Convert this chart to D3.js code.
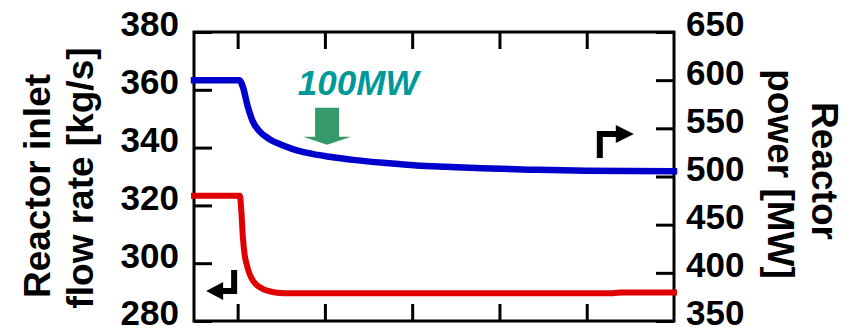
<!DOCTYPE html>
<html>
<head>
<meta charset="utf-8">
<script src="https://cdn.jsdelivr.net/npm/d3@7"></script>
<style>
  html, body { margin: 0; padding: 0; background: #fff; }
  svg { display: block; font-family: "Liberation Sans", Arial, sans-serif; font-weight: bold; }
</style>
</head>
<body>
<svg id="chart" width="852" height="329"></svg>
<script>
// Time axis (s): ticks only, no labels
const timeTicks = [0, 20, 40, 60, 80];

// Left axis: reactor inlet flow rate [kg/s]
const flowTicks = [280, 300, 320, 340, 360, 380];
// Right axis: reactor power [MW]
const powerTicks = [350, 400, 450, 500, 550, 600, 650];

// Reactor power transient (time s, MW)
const powerTime = [-10, 0.4, 1.2, 2.3, 3.4, 5, 7.4, 10, 13, 16, 21, 27, 34, 41, 48, 56, 68, 80, 100];
const powerMW   = [600, 600, 593, 573, 558, 547, 538.5, 533, 528, 524.5, 520.5, 517, 514, 511.5, 510, 508.5, 507, 506, 505.5];

// Reactor inlet flow rate transient (time s, kg/s)
const flowTime = [-10, 0.5, 0.85, 1.2, 1.6, 2.0, 2.8, 3.5, 4.5, 5.5, 7, 9, 12, 86, 88, 100];
const flowKgs  = [323.3, 323.3, 318, 309, 303, 300, 296, 294, 292.3, 291.3, 290.4, 289.8, 289.6, 289.6, 289.9, 289.9];

const svg = d3.select("#chart");
const L = 194, R = 674, T = 32, B = 321;

const x  = d3.scaleLinear().domain([-10, 100]).range([L, R]);
const yL = d3.scaleLinear().domain([280, 380]).range([B, T]);
const yR = d3.scaleLinear().domain([350, 650]).range([B, T]);

const tickLen = 18;
const fontSize = 35;

function styleAxis(g) {
  g.select(".domain").remove();
  g.selectAll(".tick line").attr("stroke", "#000").attr("stroke-width", 3);
  g.selectAll(".tick text")
    .attr("fill", "#000")
    .attr("font-size", fontSize)
    .attr("font-family", "'Liberation Sans', Arial, sans-serif")
    .attr("font-weight", "bold")
    .attr("dy", "0.11em");
}

// Left axis (inward ticks)
svg.append("g").attr("transform", `translate(${L},0)`)
  .call(d3.axisLeft(yL).tickValues(flowTicks).tickSizeInner(-tickLen).tickSizeOuter(0).tickPadding(15))
  .call(styleAxis);

// Right axis (inward ticks)
svg.append("g").attr("transform", `translate(${R},0)`)
  .call(d3.axisRight(yR).tickValues(powerTicks).tickSizeInner(-tickLen).tickSizeOuter(0).tickPadding(12))
  .call(styleAxis);

// Top and bottom time ticks
svg.append("g").attr("transform", `translate(0,${B})`)
  .call(d3.axisBottom(x).tickValues(timeTicks).tickSizeInner(-17).tickSizeOuter(0).tickFormat(""))
  .call(styleAxis);
svg.append("g").attr("transform", `translate(0,${T})`)
  .call(d3.axisTop(x).tickValues(timeTicks).tickSizeInner(-17).tickSizeOuter(0).tickFormat(""))
  .call(styleAxis);

// Plot frame
svg.append("rect")
  .attr("x", L).attr("y", T).attr("width", R - L).attr("height", B - T)
  .attr("fill", "none").attr("stroke", "#000").attr("stroke-width", 3);

// Series lines
const powerLine = d3.line().x(d => x(d[0])).y(d => yR(d[1])).curve(d3.curveMonotoneX);
const flowLine  = d3.line().x(d => x(d[0])).y(d => yL(d[1])).curve(d3.curveMonotoneX);

svg.append("path")
  .datum(d3.zip(powerTime, powerMW))
  .attr("d", powerLine)
  .attr("fill", "none").attr("stroke", "#0000CC").attr("stroke-width", 6.5)
  .attr("stroke-linecap", "square").attr("stroke-linejoin", "round");

svg.append("path")
  .datum(d3.zip(flowTime, flowKgs))
  .attr("d", flowLine)
  .attr("fill", "none").attr("stroke", "#E00000").attr("stroke-width", 6)
  .attr("stroke-linecap", "square").attr("stroke-linejoin", "round");

// "100MW" step annotation with green down arrow pointing at the power curve
svg.append("text")
  .attr("x", x(13.8)).attr("y", yR(584.6))
  .attr("font-size", 35).attr("font-style", "italic").attr("font-weight", "bold")
  .attr("fill", "#009999")
  .text("100MW");

const tipX = x(20.5), tipY = yR(533);
svg.append("path")
  .attr("d", `M${tipX - 12},${tipY - 37} H${tipX + 12} V${tipY - 8} H${tipX + 24} L${tipX},${tipY} L${tipX - 24},${tipY - 8} H${tipX - 12} Z`)
  .attr("fill", "#36996A");

// Axis indicator arrows: power curve -> right axis
const ra = { x: x(83), y: yR(544) };
svg.append("path")
  .attr("d", `M${ra.x},${ra.y + 24} V${ra.y} H${ra.x + 18}`)
  .attr("fill", "none").attr("stroke", "#000").attr("stroke-width", 6).attr("stroke-linejoin", "miter");
svg.append("path")
  .attr("d", `M${ra.x + 16},${ra.y - 9} L${ra.x + 34},${ra.y} L${ra.x + 16},${ra.y + 9} Z`)
  .attr("fill", "#000");

// flow curve -> left axis
const la = { x: x(-0.8), y: yL(290.4) };
svg.append("path")
  .attr("d", `M${la.x},${la.y - 21} V${la.y} H${la.x - 12}`)
  .attr("fill", "none").attr("stroke", "#000").attr("stroke-width", 6).attr("stroke-linejoin", "miter");
svg.append("path")
  .attr("d", `M${la.x - 11},${la.y - 9} L${la.x - 28},${la.y} L${la.x - 11},${la.y + 9} Z`)
  .attr("fill", "#000");

// Axis titles
const titleSize = 37;
function title(lines, rot) {
  lines.forEach(l => {
    svg.append("text")
      .attr("transform", `translate(${l.bx},${l.cy}) rotate(${rot})`)
      .attr("text-anchor", "middle")
      .attr("font-size", titleSize)
      .attr("fill", "#000")
      .text(l.text);
  });
}
title([{ text: "Reactor inlet", bx: 50, cy: 186 }, { text: "flow rate [kg/s]", bx: 93, cy: 178 }], -90);
title([{ text: "Reactor", bx: 812, cy: 171 }, { text: "power [MW]", bx: 768, cy: 174 }], 90);
</script>
</body>
</html>
